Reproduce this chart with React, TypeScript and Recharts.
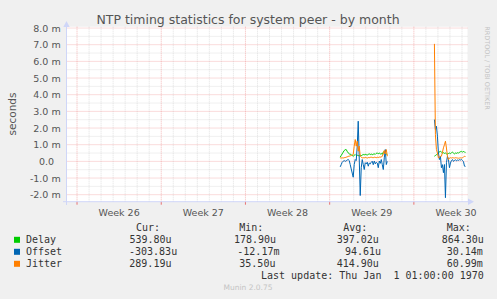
import React from 'react';
import { LineChart, Line, XAxis, YAxis, ReferenceLine, CartesianGrid } from 'recharts';

// time axis in hours since the left edge of the graph (2-hour samples)
const seg1Start = 546;
const seg2Start = 734;
const stepHours = 2;

const delaySeg1 = [0.25,0.35,0.45,0.55,0.65,0.7,0.71,0.6,0.51,0.45,0.43,0.41,0.35,0.31,0.36,0.41,0.35,0.37,0.35,0.33,0.36,0.34,0.38,0.41,0.39,0.42,0.4,0.38,0.42,0.45,0.41,0.44,0.4,0.43,0.45,0.42,0.48,0.51,0.45,0.5,0.44,0.47,0.42,0.55,0.61,0.5,0.45,0.41];
const offsetSeg1 = [-0.33,-0.2,-0.05,0.01,0.05,0.0,0.03,0.08,0.11,0.05,-0.19,-0.45,-0.7,-0.95,-0.19,0.11,0.05,0.91,2.41,0.2,-2.05,-0.38,0.11,-0.19,-0.49,-0.08,-0.15,-0.05,-0.29,-0.1,-0.15,-0.05,0.01,-0.2,0.02,-0.15,-0.05,-0.1,-0.38,0.02,-0.12,0.11,-0.2,-0.49,0.21,0.71,-0.19,0.0];
const jitterSeg1 = [0.21,0.2,0.21,0.2,0.22,0.23,0.25,0.27,0.3,0.31,0.33,0.35,0.38,0.41,0.91,1.31,0.91,1.21,0.61,0.91,0.31,0.25,0.21,0.22,0.21,0.24,0.22,0.2,0.23,0.22,0.24,0.25,0.23,0.22,0.25,0.24,0.22,0.25,0.23,0.26,0.25,0.27,0.3,0.45,0.65,0.45,0.71,0.31];

const delaySeg2 = [0.31,0.35,0.4,0.45,0.5,0.58,0.61,0.55,0.5,0.52,0.48,0.5,0.45,0.44,0.47,0.5,0.46,0.52,0.55,0.5,0.45,0.5,0.48,0.52,0.49,0.55,0.58,0.6,0.55,0.61,0.55,0.54];
const offsetSeg2 = [2.51,1.91,2.11,1.51,0.51,0.11,0.3,-0.38,-0.2,-0.68,-0.19,-2.18,-0.08,0.31,0.11,-0.38,-0.1,0.05,0.11,0.0,0.05,0.1,0.03,0.08,0.06,0.1,0.08,0.11,0.05,-0.02,-0.29,-0.3];
const jitterSeg2 = [7.05,1.6,0.71,0.5,0.21,0.25,0.3,0.31,0.55,0.81,1.0,1.21,0.8,0.31,0.11,0.2,0.22,0.2,0.22,0.21,0.2,0.22,0.21,0.2,0.19,0.2,0.21,0.2,0.22,0.25,0.31,0.29];

const weekBoundaries = [21, 189, 357, 525, 693];
const weekLabels = ['Week 26', 'Week 27', 'Week 28', 'Week 29', 'Week 30'];
const dayLines = [21,45,69,93,117,141,165,189,213,237,261,285,309,333,357,381,405,429,453,477,501,525,549,573,597,621,645,669,693,717,741,765,789];
const yMajor = [-2, -1, 0, 1, 2, 3, 4, 5, 6, 7, 8];
const yMinor = [-1.5, -0.5, 0.5, 1.5, 2.5, 3.5, 4.5, 5.5, 6.5, 7.5];
const xDomain = [0, 800];
const yDomain = [-2.42, 8.08];

const legendHeaders = ['Cur:', 'Min:', 'Avg:', 'Max:'];
const legendNames = ['Delay', 'Offset', 'Jitter'];
const legendColors = ['#00cc00', '#0066b3', '#ff8000'];
const legendValues = [
  ['539.80u', '178.90u', '397.02u', '864.30u'],
  ['-303.83u', '-12.17m', '94.61u', '30.14m'],
  ['289.19u', '35.50u', '414.90u', '60.99m'],
];
const legendValueX = [
  [129.5, 234, 336.7, 441.7],
  [129, 237.3, 345, 446.7],
  [129.3, 239.3, 336.7, 446.7],
];
const headerX = [136, 239.3, 343.3, 446.7];

type Row = { t: number; delay: number | null; offset: number | null; jitter: number | null };
const rows: Row[] = [];
delaySeg1.forEach((d, i) => rows.push({ t: seg1Start + i * stepHours, delay: d, offset: offsetSeg1[i], jitter: jitterSeg1[i] }));
rows.push({ t: seg1Start + delaySeg1.length * stepHours, delay: null, offset: null, jitter: null });
delaySeg2.forEach((d, i) => rows.push({ t: seg2Start + i * stepHours, delay: d, offset: offsetSeg2[i], jitter: jitterSeg2[i] }));

const xTicks = [...weekBoundaries, ...weekBoundaries.map((b) => b + 84)].sort((a, b) => a - b);

const SANS = 'DejaVu Sans';
const MONO = 'DejaVu Sans Mono';
const MINOR = '#c8c8c8';
const MAJOR = '#ee8888';

const XTick = (props: any) => {
  const { x, y, payload } = props;
  const v = payload.value;
  const bi = weekBoundaries.indexOf(v);
  if (bi >= 0) {
    return <line x1={x} x2={x} y1={y} y2={y + 3} stroke="#e87070" strokeWidth={1} />;
  }
  const li = weekBoundaries.indexOf(v - 84);
  return (
    <text x={x} y={y + 14} textAnchor="middle" fontSize={9.5} fontFamily={SANS} fill="#555">
      {weekLabels[li]}
    </text>
  );
};

const YTick = (props: any) => {
  const { y, payload } = props;
  const v = payload.value;
  const label = v === 0 ? '0.0' : `${v.toFixed(1)} m`;
  return (
    <text x={v === 0 ? 54 : 60.7} y={y + 3.5} textAnchor="end" fontSize={9.5} fontFamily={SANS} fill="#555">
      {label}
    </text>
  );
};

export default function App() {
  return (
    <div style={{ position: 'absolute', left: 0, top: 0, width: 497, height: 299, background: '#f0f0f0', overflow: 'hidden' }}>
      <LineChart
        width={497}
        height={299}
        data={rows}
        margin={{ top: 26.7, right: 29.5, bottom: 77.3, left: 0 }}
      >
        <CartesianGrid fill="#ffffff" horizontal={false} vertical={false} />
        {dayLines.filter((d) => !weekBoundaries.includes(d)).map((d) => (
          <ReferenceLine key={'vd' + d} x={d} stroke={MINOR} strokeOpacity={0.55} strokeDasharray="1 1" strokeWidth={1} />
        ))}
        {yMinor.map((v) => (
          <ReferenceLine key={'hm' + v} y={v} stroke={MINOR} strokeOpacity={0.55} strokeDasharray="1 1" strokeWidth={1} />
        ))}
        {weekBoundaries.map((d) => (
          <ReferenceLine key={'vw' + d} x={d} stroke={MAJOR} strokeOpacity={0.6} strokeDasharray="1 1" strokeWidth={1} />
        ))}
        {yMajor.map((v) => (
          <ReferenceLine key={'hM' + v} y={v} stroke={MAJOR} strokeOpacity={0.6} strokeDasharray="1 1" strokeWidth={1} />
        ))}
        <XAxis
          dataKey="t"
          type="number"
          domain={xDomain}
          ticks={xTicks}
          interval={0}
          height={20}
          tickSize={0}
          tickMargin={0}
          axisLine={false}
          tickLine={false}
          tick={<XTick />}
          allowDataOverflow
        />
        <YAxis
          type="number"
          domain={yDomain}
          ticks={yMajor}
          interval={0}
          width={66.5}
          tickSize={0}
          axisLine={false}
          tickLine={false}
          tick={<YTick />}
          allowDataOverflow
        />
        <Line dataKey="delay" stroke="#00cc00" strokeWidth={1} dot={false} activeDot={false} isAnimationActive={false} connectNulls={false} type="linear" />
        <Line dataKey="offset" stroke="#0066b3" strokeWidth={1} dot={false} activeDot={false} isAnimationActive={false} connectNulls={false} type="linear" />
        <Line dataKey="jitter" stroke="#ff8000" strokeWidth={1} dot={false} activeDot={false} isAnimationActive={false} connectNulls={false} type="linear" />
      </LineChart>
      <svg width={497} height={299} style={{ position: 'absolute', left: 0, top: 0, pointerEvents: 'none' }}>
        {/* axes with arrows */}
        <line x1={63} x2={469} y1={201.7} y2={201.7} stroke="#cfd6f8" strokeWidth={1} />
        <polygon points="468,198.5 474,201.7 468,204.9" fill="#cfd6f8" />
        <line x1={66.5} x2={66.5} y1={205} y2={26} stroke="#cfd6f8" strokeWidth={1} />
        <polygon points="63.3,27 66.5,21 69.7,27" fill="#cfd6f8" />
        {/* title */}
        <text x={248} y={24} textAnchor="middle" fontSize={12.5} fontFamily={SANS} fill="#555">
          NTP timing statistics for system peer - by month
        </text>
        <text x={12} y={114} transform="rotate(-90 12 114)" textAnchor="middle" dominantBaseline="central" fontSize={10.5} fontFamily={SANS} fill="#555">
          seconds
        </text>
        <text x={487} y={68} transform="rotate(90 487 68)" textAnchor="middle" dominantBaseline="central" fontSize={6.5} fontFamily={SANS} fill="#c4c4c4">
          RRDTOOL / TOBI OETIKER
        </text>
        {/* legend */}
        {legendHeaders.map((h, i) => (
          <text key={h} x={headerX[i]} y={231.3} fontSize={10} fontFamily={MONO} fill="#333">{h}</text>
        ))}
        {legendNames.map((n, r) => (
          <g key={n}>
            <rect x={14} y={236.8 + r * 12} width={6} height={6} fill={legendColors[r]} />
            <text x={26} y={243 + r * 12} fontSize={10} fontFamily={MONO} fill="#333">{n}</text>
            {legendValues[r].map((v, c) => (
              <text key={c} x={legendValueX[r][c]} y={243 + r * 12} fontSize={10} fontFamily={MONO} fill="#333">{v}</text>
            ))}
          </g>
        ))}
        <text x={261} y={279.3} fontSize={10} fontFamily={MONO} fill="#333" style={{ whiteSpace: 'pre' }}>
          {'Last update: Thu Jan  1 01:00:00 1970'}
        </text>
        <text x={248} y={290.4} textAnchor="middle" fontSize={7.5} fontFamily={SANS} fill="#c4c4c4">
          Munin 2.0.75
        </text>
      </svg>
    </div>
  );
}
